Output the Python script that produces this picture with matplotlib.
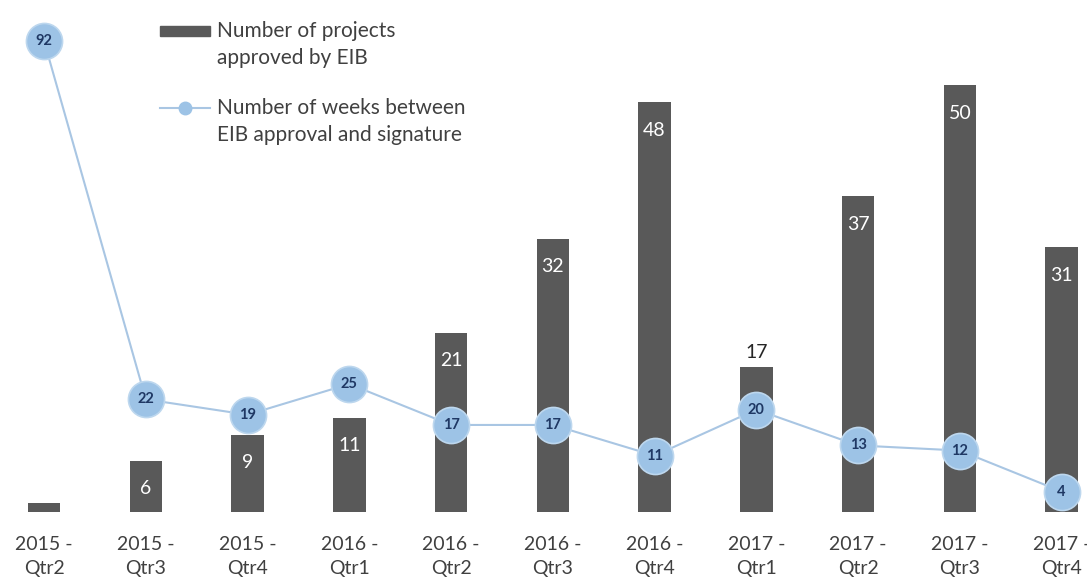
import matplotlib.pyplot as plt
from matplotlib.patches import Rectangle
from matplotlib.lines import Line2D

plt.rcParams['font.family'] = ['Lato', 'DejaVu Sans']

# Data
quarters = ['2015 -\nQtr2', '2015 -\nQtr3', '2015 -\nQtr4', '2016 -\nQtr1',
            '2016 -\nQtr2', '2016 -\nQtr3', '2016 -\nQtr4', '2017 -\nQtr1',
            '2017 -\nQtr2', '2017 -\nQtr3', '2017 -\nQtr4']
projects_approved = [1, 6, 9, 11, 21, 32, 48, 17, 37, 50, 31]
weeks_to_signature = [92, 22, 19, 25, 17, 17, 11, 20, 13, 12, 4]

bar_color = '#595959'
dot_color = '#9DC3E6'
line_color = '#A9C6E3'
text_color = '#404040'

fig = plt.figure(figsize=(10.87, 5.79), dpi=100)
ax = fig.add_axes([0, 67 / 579, 1, 512 / 579])
x = list(range(len(quarters)))

# Bars: number of projects approved
bars = ax.bar(x, projects_approved, width=0.32, color=bar_color, zorder=2)
ax.set_ylim(0, 60)
ax.set_xlim(-0.433, 10.25)

for rect, val in zip(bars, projects_approved):
    if val < 3:
        continue
    cx = rect.get_x() + rect.get_width() / 2
    if val == 17:
        # this one sits above its bar in the original
        ax.annotate(str(val), (cx, val), xytext=(0, 4), textcoords='offset points',
                    ha='center', va='bottom', fontsize=14, color='#262626', zorder=3)
    else:
        ax.annotate(str(val), (cx, val), xytext=(0, -20), textcoords='offset points',
                    ha='center', va='center', fontsize=14, color='white', zorder=3)

# Line: weeks between approval and signature
ax2 = ax.twinx()
ax2.set_ylim(0, 100)
ax2.plot(x, weeks_to_signature, color=line_color, lw=1.5, marker='o',
         markersize=26, markerfacecolor=dot_color, markeredgecolor='#BDD7EE',
         markeredgewidth=1.2, zorder=4)
for xi, w in zip(x, weeks_to_signature):
    ax2.text(xi, w, str(w), ha='center', va='center', fontsize=10.5,
             fontweight='bold', color='#1F3864', zorder=5)

for a in (ax, ax2):
    for s in a.spines.values():
        s.set_visible(False)
    a.tick_params(length=0)
ax2.set_yticks([])
ax.set_yticks([])
ax.set_xticks(x)
ax.set_xticklabels(quarters, fontsize=14, color=text_color, linespacing=1.5)
ax.tick_params(axis='x', pad=17.5)

# Legend drawn in figure space so the handles line up with the first text line
fig.patches.append(Rectangle((160 / 1087, 1 - 36 / 579), 50 / 1087, 10 / 579,
                             transform=fig.transFigure, color=bar_color))
fig.text(217 / 1087, 1 - 21 / 579, 'Number of projects\napproved by EIB',
         fontsize=15, color=text_color, va='top', ha='left', linespacing=1.45)
fig.lines.append(Line2D([160 / 1087, 210 / 1087], [1 - 108 / 579, 1 - 108 / 579],
                        transform=fig.transFigure, color=line_color, lw=1.5))
fig.lines.append(Line2D([185 / 1087], [1 - 108 / 579], transform=fig.transFigure,
                        marker='o', markersize=9, markerfacecolor=dot_color,
                        markeredgecolor=dot_color, lw=0))
fig.text(217 / 1087, 1 - 98 / 579, 'Number of weeks between\nEIB approval and signature',
         fontsize=15, color=text_color, va='top', ha='left', linespacing=1.45)

fig.savefig('out.png', dpi=100)
